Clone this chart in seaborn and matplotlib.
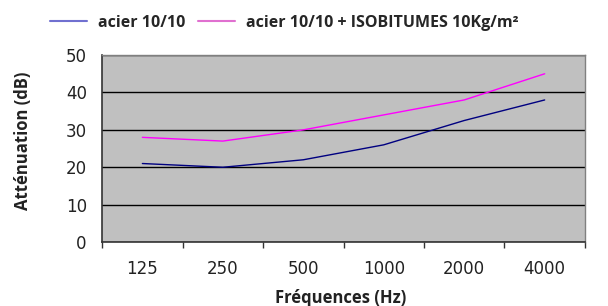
import matplotlib.pyplot as plt
import numpy as np
import pandas as pd
import seaborn as sns

# Frequencies and attenuation values
freqs = ["125", "250", "500", "1000", "2000", "4000"]
acier = [21, 20, 22, 26, 32.5, 38]
acier_iso = [28, 27, 30, 34, 38, 45]
labels = ["acier 10/10", "acier 10/10 + ISOBITUMES 10Kg/m²"]

df = pd.DataFrame({
    "freq": freqs * 2,
    "att": acier + acier_iso,
    "serie": [labels[0]] * len(freqs) + [labels[1]] * len(freqs),
})

sns.set_style("white")
plt.rcParams["font.family"] = ["DejaVu Sans"]

fig = plt.figure(figsize=(6.08, 3.06), dpi=100)
ax = fig.add_axes([0.168, 0.209, 0.794, 0.611])
ax.set_facecolor("#c0c0c0")

sns.lineplot(data=df, x="freq", y="att", hue="serie",
             palette=["#000080", "#ff00ff"], linewidth=1.0, ax=ax, legend=False)

ax.set_xlim(-0.5, 5.5)
ax.set_ylim(0, 50)
ax.set_yticks(np.arange(0, 51, 10))
ax.grid(axis="y", color="black", linewidth=1.0)
ax.set_axisbelow(True)

ax.set_xticks(range(len(freqs)))
ax.set_xticklabels(freqs)
ax.set_xticks(np.arange(-0.5, 6, 1), minor=True)
ax.tick_params(axis="x", which="major", length=0, pad=13, labelsize=12, colors="#222222")
ax.tick_params(axis="x", which="minor", length=4, width=1, direction="out", color="#333333")
ax.tick_params(axis="y", length=6, width=1, direction="out", pad=5, labelsize=12,
               colors="#222222")
ax.tick_params(axis="x", bottom=True, which="both")

for s in ["left", "bottom"]:
    ax.spines[s].set_color("#333333")
    ax.spines[s].set_linewidth(1.2)
for s in ["top", "right"]:
    ax.spines[s].set_color("#808080")
    ax.spines[s].set_linewidth(1.0)

ax.set_xlabel("Fréquences (Hz)", fontsize=12, fontweight="bold", family=["Open Sans"],
              color="#222222")
ax.set_ylabel("Atténuation (dB)", fontsize=12, fontweight="bold", family=["Open Sans"],
              color="#222222")
ax.xaxis.set_label_coords(0.493, -0.25)
ax.yaxis.set_label_coords(-0.145, 0.54)

handles = [plt.Line2D([], [], color="#7070d0", linewidth=1.5),
           plt.Line2D([], [], color="#e070d0", linewidth=1.5)]
fig.legend(handles, labels, loc="center left", bbox_to_anchor=(0.082, 0.925), ncol=2,
           frameon=False, borderpad=0, borderaxespad=0, handlelength=2.3,
           columnspacing=0.8, handletextpad=0.7,
           prop={"family": "Open Sans", "weight": "bold", "size": 11.5})

fig.savefig("out.png", dpi=100)
